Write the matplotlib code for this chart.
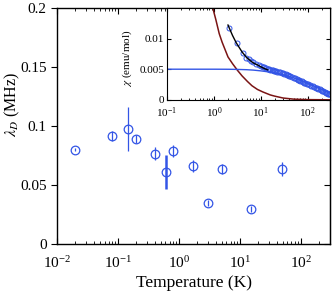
import matplotlib
matplotlib.use("Agg")
import matplotlib.pyplot as plt
from matplotlib.ticker import LogLocator, FixedLocator, FixedFormatter, NullFormatter

plt.rcParams['font.family'] = ['Liberation Serif', 'DejaVu Serif']
plt.rcParams['mathtext.fontset'] = 'stix'

# ---- main panel data: lambda_D vs temperature ----
temp_K = [0.02, 0.079, 0.145, 0.197, 0.405, 0.61, 0.80, 1.7, 3.0, 5.0, 15.0, 49.0]
lambda_D = [0.080, 0.0915, 0.0975, 0.089, 0.0765, 0.061, 0.0790, 0.066, 0.0350, 0.0636, 0.0300, 0.0636]
lambda_err = [0.001, 0.004, 0.019, 0.003, 0.0055, 0.0145, 0.005, 0.005, 0.0025, 0.004, 0.0025, 0.006]

# ---- inset data: susceptibility ----
chi_data_T = [2.1, 3.05, 4.1, 4.9, 5.7, 6.3, 7.0, 8.0, 9.0, 10.0, 11.0, 12.0, 13.0, 14.0,
              15.0, 16.0, 17.0, 18.0, 19.0, 20.0, 21.0, 22.0, 24.0, 26.0, 28.0, 30.0,
              32.0, 34.0, 36.0, 38.0, 40.0, 43.0, 46.0, 50.0, 54.0, 58.0, 62.0, 66.0,
              70.0, 75.0, 80.0, 85.0, 90.0, 95.0, 100.0, 110.0, 120.0, 130.0, 140.0,
              150.0, 160.0, 170.0, 180.0, 190.0, 200.0, 215.0, 230.0, 245.0, 260.0,
              275.0, 290.0, 300.0]
chi_data = [0.0118, 0.0092, 0.0077, 0.0069, 0.0066, 0.0063, 0.0061, 0.0059, 0.0057, 0.0055,
            0.0054, 0.0053, 0.0052, 0.0051, 0.0050, 0.0049, 0.00485, 0.0048, 0.00475, 0.0047,
            0.00465, 0.0046, 0.00455, 0.0045, 0.0044, 0.00435, 0.0042, 0.00415, 0.0041,
            0.0040, 0.0039, 0.00385, 0.0038, 0.0036, 0.0035, 0.0034, 0.0033, 0.0032,
            0.0031, 0.0030, 0.0029, 0.0028, 0.0027, 0.00265, 0.0026, 0.0024, 0.0023,
            0.0022, 0.0021, 0.0020, 0.0019, 0.0018, 0.0017, 0.0016, 0.0015, 0.0014,
            0.0013, 0.0012, 0.0011, 0.00102, 0.00095, 0.0009]

fit_T = [2.0, 2.5, 3.0, 3.5, 4.0, 5.0, 6.0, 7.0, 8.5, 10.0, 12.0, 14.0]
fit_chi = [0.0122, 0.0105, 0.0093, 0.0085, 0.0078, 0.0069, 0.0064, 0.0060, 0.0057, 0.0054, 0.0051, 0.0049]

model_T = [0.1, 0.3, 1.0, 2.0, 3.0, 5.0, 7.0, 10.0, 15.0, 20.0, 30.0, 50.0, 70.0, 100.0, 150.0, 200.0, 300.0]
model_chi = [0.0050, 0.0050, 0.0050, 0.00499, 0.00497, 0.00492, 0.00485, 0.00473, 0.00455,
             0.0044, 0.0041, 0.0036, 0.0032, 0.0027, 0.0021, 0.0017, 0.0011]

curie_T = [0.9, 1.0, 1.1, 1.3, 1.5, 2.0, 2.5, 3.2, 4.0, 5.2, 6.5, 8.5, 11.0, 16.0, 20.0, 30.0, 50.0, 100.0, 300.0]
curie_chi = [0.0158, 0.0143, 0.0131, 0.0108, 0.0094, 0.0070, 0.0059, 0.0048, 0.0039, 0.0030,
             0.0023, 0.0017, 0.0013, 0.0008, 0.0006, 0.0003, 0.00012, 0.00004, 0.00001]

main_ticks_y = [0, 0.05, 0.1, 0.15, 0.2]
main_ticklabels_y = ['0', '0.05', '0.1', '0.15', '0.2']
inset_ticks_y = [0, 0.005, 0.01]
inset_ticklabels_y = ['0', '0.005', '0.01']

blue = '#3355e6'

fig = plt.figure(figsize=(3.32, 2.92), dpi=100)
ax = fig.add_axes([0.172, 0.164, 0.822, 0.809])

thick = [i for i, e in enumerate(lambda_err) if e > 0.012 and temp_K[i] > 0.5]
thin = [i for i in range(len(temp_K)) if i not in thick]
ax.errorbar([temp_K[i] for i in thin], [lambda_D[i] for i in thin],
            yerr=[lambda_err[i] for i in thin], fmt='o', mfc='none', mec=blue,
            ecolor=blue, ms=6.2, mew=0.9, elinewidth=0.9, capsize=0)
ax.errorbar([temp_K[i] for i in thick], [lambda_D[i] for i in thick],
            yerr=[lambda_err[i] for i in thick], fmt='o', mfc='none', mec=blue,
            ecolor=blue, ms=6.2, mew=0.9, elinewidth=1.8, capsize=0)

ax.set_xscale('log')
ax.set_xlim(0.01, 300)
ax.set_ylim(0, 0.2)
ax.yaxis.set_major_locator(FixedLocator(main_ticks_y))
ax.yaxis.set_major_formatter(FixedFormatter(main_ticklabels_y))
ax.xaxis.set_major_locator(LogLocator(base=10, numticks=10))
ax.xaxis.set_minor_locator(LogLocator(base=10, subs=range(2, 10), numticks=20))
ax.xaxis.set_minor_formatter(NullFormatter())
ax.tick_params(axis='x', which='both', direction='in', top=True, labelsize=11, pad=8)
ax.tick_params(axis='x', which='major', length=4)
ax.tick_params(axis='x', which='minor', length=2)
ax.tick_params(axis='y', which='both', direction='out', labelsize=11, length=4)
sec = ax.secondary_yaxis('right')
sec.yaxis.set_major_locator(FixedLocator(main_ticks_y))
sec.tick_params(direction='in', labelright=False, length=4)
for s in ax.spines.values():
    s.set_linewidth(1.0)

ax.set_xlabel('Temperature (K)', fontsize=12.5, labelpad=3)
ax.set_ylabel(r'$\lambda_D$ (MHz)', fontsize=11.5)
ax.yaxis.set_label_coords(-0.128, 0.59)

# ---- inset ----
ins = fig.add_axes([0.503, 0.658, 0.491, 0.315])
ins.plot(curie_T, curie_chi, color='#7a1414', lw=1.1)
ins.plot(model_T, model_chi, color=blue, lw=1.0)
ins.plot(chi_data_T, chi_data, 'o', mfc='none', mec=blue, ms=3.6, mew=0.7)
ins.plot(fit_T, fit_chi, color='black', lw=1.0)
ins.set_xscale('log')
ins.set_xlim(0.1, 300)
ins.set_ylim(0, 0.015)
ins.yaxis.set_major_locator(FixedLocator(inset_ticks_y))
ins.yaxis.set_major_formatter(FixedFormatter(inset_ticklabels_y))
ins.xaxis.set_major_locator(LogLocator(base=10, numticks=10))
ins.xaxis.set_minor_locator(LogLocator(base=10, subs=range(2, 10), numticks=20))
ins.xaxis.set_minor_formatter(NullFormatter())
ins.tick_params(which='both', direction='in', top=True, right=True, labelsize=8, pad=2)
ins.tick_params(axis='x', pad=4)
ins.tick_params(which='major', length=3)
ins.tick_params(which='minor', length=1.5)
ins.set_ylabel(r'$\chi$ (emu/mol)', fontsize=8)
ins.yaxis.set_label_coords(-0.205, 0.45)

fig.savefig('out.png', dpi=100)
